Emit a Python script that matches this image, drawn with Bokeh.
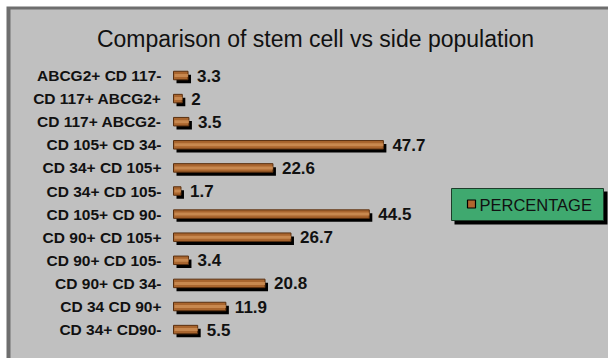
from bokeh.plotting import figure
from bokeh.models import Range1d, ColumnDataSource
from bokeh.core.properties import value
from bokeh.embed import file_html
from bokeh.resources import INLINE

# Data
categories = [
    "ABCG2+ CD 117-", "CD 117+ ABCG2+", "CD 117+ ABCG2-", "CD 105+ CD 34-",
    "CD 34+ CD 105+", "CD 34+ CD 105-", "CD 105+ CD 90-", "CD 90+ CD 105+",
    "CD 90+ CD 105-", "CD 90+ CD 34-", "CD 34 CD 90+", "CD 34+ CD90-",
]
percentages = [3.3, 2, 3.5, 47.7, 22.6, 1.7, 44.5, 26.7, 3.4, 20.8, 11.9, 5.5]
value_labels = ["3.3", "2", "3.5", "47.7", "22.6", "1.7", "44.5", "26.7", "3.4", "20.8", "11.9", "5.5"]
series_name = "PERCENTAGE"
title_text = "Comparison of stem cell vs side population"

W, H = 608, 358
X0_PX, PX_PER_UNIT = 173.0, 4.40      # value axis origin / scale
Y0_PX, PX_PER_ROW = 75.0, 23.1        # first row centre / row pitch

def dx(px):
    return px / PX_PER_UNIT

def dy(px):
    return px / PX_PER_ROW

def xd(px):
    return (px - X0_PX) / PX_PER_UNIT

def yd(px):
    return (px - Y0_PX) / PX_PER_ROW

p = figure(width=W, height=H, output_backend="svg", toolbar_location=None,
           x_range=Range1d(xd(0), xd(W)), y_range=Range1d(yd(H), yd(0)),
           min_border=0, min_border_left=0, min_border_right=0,
           min_border_top=0, min_border_bottom=0)
p.axis.visible = False
p.grid.visible = False
p.outline_line_color = None
p.background_fill_color = "white"
p.border_fill_color = "white"

# chart frame: dark border on top/left, light gray panel
p.quad(left=[xd(6)], right=[xd(W + 5)], top=[yd(6)], bottom=[yd(H + 5)],
       fill_color="#6e6e6e", line_color=None)
p.quad(left=[xd(10)], right=[xd(W + 5)], top=[yd(9)], bottom=[yd(H + 5)],
       fill_color="#c0c0c0", line_color=None)

p.text(x=[xd(315)], y=[yd(38)], text=[title_text], text_align="center",
       text_baseline="middle", text_font=value("Liberation Sans"),
       text_font_size="23px", text_color="#111111")

rows = list(range(len(categories)))
src = ColumnDataSource(dict(
    y=rows, v=percentages, cat=categories, lab=value_labels,
    ys=[r + dy(3.5) for r in rows],
    vs=[v + dx(3) for v in percentages],
    vl=[v + dx(9) for v in percentages],
))

bar_h = dy(8.5)
# drop shadows
p.hbar(y="ys", left=dx(3), right="vs", height=bar_h, source=src,
       fill_color="black", line_color=None)
# bars
p.hbar(y="y", left=0, right="v", height=bar_h, source=src,
       fill_color="#a9652e", line_color="#5a3010", line_width=1)
p.hbar(y="y", left=dx(1), right="v", height=dy(3), source=src,
       fill_color="#cf9158", line_color=None, fill_alpha=0.8)

p.text(x=xd(161), y="y", text="cat", source=src, text_align="right",
       text_baseline="middle", text_font=value("Liberation Sans"),
       text_font_style="bold", text_font_size="15.5px", text_color="#111111")
p.text(x="vl", y="y", text="lab", source=src, text_align="left",
       text_baseline="middle", text_font=value("Liberation Sans"),
       text_font_style="bold", text_font_size="17px", text_color="#111111")

# legend box
p.quad(left=[xd(454)], right=[xd(607)], top=[yd(191)], bottom=[yd(224)],
       fill_color="black", line_color=None)
p.quad(left=[xd(451)], right=[xd(603)], top=[yd(188)], bottom=[yd(220)],
       fill_color="#3fa96f", line_color="#1d3d2a", line_width=1)
p.quad(left=[xd(467)], right=[xd(475)], top=[yd(199.5)], bottom=[yd(207.5)],
       fill_color="#b0652e", line_color="black", line_width=1.2)
p.text(x=[xd(479)], y=[yd(204)], text=[series_name], text_align="left",
       text_baseline="middle", text_font=value("Liberation Sans"),
       text_font_size="16.5px", text_color="#111111")

open("out.html", "w").write(file_html(p, INLINE))
